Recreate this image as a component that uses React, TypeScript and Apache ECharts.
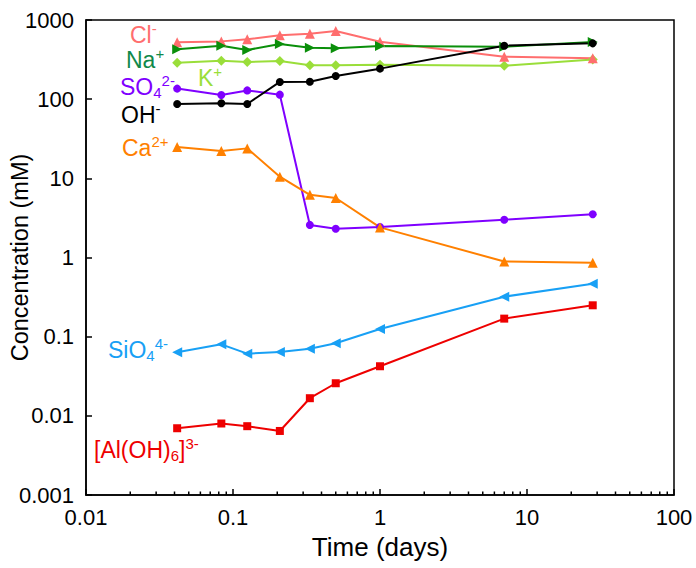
import React, { useEffect, useRef } from "react";
import * as echarts from "echarts";

const FONT = "'Liberation Sans', Arial, Helvetica, sans-serif";

const timeDays = [0.0417, 0.0833, 0.125, 0.2083, 0.3333, 0.5, 1, 7, 28];
const chloride = [522, 537, 570, 641, 671, 726, 532, 344, 328];
const sodium = [427, 474, 418, 498, 447, 439, 468, 460, 527];
const potassium = [289, 306, 295, 303, 268, 268, 273, 265, 316];
const sulfate = [136, 113, 129, 114, 2.58, 2.31, 2.43, 3.0, 3.52];
const hydroxide = [87, 89, 87, 165, 166, 196, 243, 474, 507];
const calcium = [24.9, 22.1, 23.9, 10.5, 6.2, 5.65, 2.4, 0.89, 0.86];
const silicate = [0.0635, 0.08, 0.061, 0.064, 0.0705, 0.0824, 0.125, 0.32, 0.467];
const aluminate = [0.00697, 0.008, 0.0074, 0.00644, 0.0167, 0.0258, 0.0423, 0.169, 0.249];

const xTickLabels = ["0.01", "0.1", "1", "10", "100"];
const yTickLabels = ["0.001", "0.01", "0.1", "1", "10", "100", "1000"];
const xMinorTicks = [
  0.02, 0.03, 0.04, 0.05, 0.06, 0.07, 0.08, 0.09,
  0.2, 0.3, 0.4, 0.5, 0.6, 0.7, 0.8, 0.9,
  2, 3, 4, 5, 6, 7, 8, 9,
  20, 30, 40, 50, 60, 70, 80, 90,
];

const COLORS = {
  cl: "#FF6E6E",
  na: "#0A8F0A",
  naLabel: "#10894A",
  k: "#9ADE3A",
  so4: "#7F00FF",
  oh: "#000000",
  ca: "#FF8000",
  sio4: "#18A0F5",
  al: "#EE0000",
};

const pair = (vals: number[]) => timeDays.map((t, i) => [t, vals[i]]);

const lineSeries = (
  name: string,
  vals: number[],
  color: string,
  symbol: string,
  symbolSize: number,
  symbolRotate = 0
) => ({
  name,
  type: "line",
  data: pair(vals),
  symbol,
  symbolSize,
  symbolRotate,
  showAllSymbol: true,
  lineStyle: { color, width: 2 },
  itemStyle: { color },
  emphasis: { disabled: true },
  z: 3,
});

const rich = {
  n: { fontSize: 23, lineHeight: 27, fontFamily: FONT },
  sup: { fontSize: 15, lineHeight: 15, fontFamily: FONT, verticalAlign: "top" },
  sub: { fontSize: 15, lineHeight: 10, fontFamily: FONT, verticalAlign: "bottom" },
};

const label = (x: number, y: number, color: string, text: string) => ({
  type: "text",
  x,
  y,
  silent: true,
  style: {
    text,
    fill: color,
    rich,
    align: "left",
    verticalAlign: "top",
    fontFamily: FONT,
    fontSize: 23,
  },
});

export default function App() {
  const ref = useRef<HTMLDivElement>(null);
  useEffect(() => {
    if (!ref.current) return;
    const chart = echarts.init(ref.current, null, { renderer: "svg" });
    const axisCommon = {
      type: "log",
      logBase: 10,
      axisLine: { show: true, lineStyle: { color: "#000", width: 1.5 } },
      axisTick: { show: true, inside: true, length: 6, lineStyle: { color: "#000", width: 1.5 } },
      splitLine: { show: false },
      minorTick: { show: false },
      nameLocation: "middle",
      nameMoveOverlap: false,
    };
    chart.setOption({
      animation: false,
      backgroundColor: "#fff",
      grid: {
        left: 86,
        right: 22,
        top: 20,
        bottom: 73,
        show: true,
        borderColor: "#000",
        borderWidth: 1.5,
        containLabel: false,
        outerBoundsMode: "none",
      },
      xAxis: {
        ...axisCommon,
        min: 0.01,
        max: 100,
        splitNumber: 4,
        name: "Time (days)",
        nameGap: 39,
        nameTextStyle: { color: "#000", fontSize: 26, fontFamily: FONT },
        axisLabel: {
          color: "#000",
          fontSize: 22,
          fontFamily: FONT,
          margin: 11,
          formatter: (v: number) => xTickLabels[Math.round(Math.log10(v)) + 2] ?? "",
        },
      },
      yAxis: {
        ...axisCommon,
        min: 0.001,
        max: 1000,
        splitNumber: 6,
        name: "Concentration (mM)",
        nameGap: 54,
        nameTextStyle: { color: "#000", fontSize: 23.5, fontFamily: FONT },
        axisLabel: {
          color: "#000",
          fontSize: 22,
          fontFamily: FONT,
          margin: 12,
          formatter: (v: number) => yTickLabels[Math.round(Math.log10(v)) + 3] ?? "",
        },
      },
      series: [
        {
          type: "custom",
          silent: true,
          clip: false,
          data: xMinorTicks.map((v) => [v, 0.001]),
          renderItem: (params: any, api: any) => {
            const p = api.coord([api.value(0), 0.001]);
            return {
              type: "line",
              shape: { x1: p[0], y1: p[1], x2: p[0], y2: p[1] - 3.5 },
              style: { stroke: "#000", lineWidth: 1.5 },
            };
          },
          z: 1,
        },
        lineSeries("K+", potassium, COLORS.k, "diamond", 10),
        lineSeries("Cl-", chloride, COLORS.cl, "triangle", 10),
        lineSeries("Na+", sodium, COLORS.na, "triangle", 10, -90),
        lineSeries("SO4 2-", sulfate, COLORS.so4, "circle", 8),
        lineSeries("Ca2+", calcium, COLORS.ca, "triangle", 10),
        lineSeries("SiO4 4-", silicate, COLORS.sio4, "triangle", 10, 90),
        lineSeries("Al(OH)6 3-", aluminate, COLORS.al, "rect", 8),
        lineSeries("OH-", hydroxide, COLORS.oh, "circle", 8),
      ],
      graphic: [
        label(130, 21, COLORS.cl, "{n|Cl}{sup|-}"),
        label(126, 46, COLORS.naLabel, "{n|Na}{sup|+}"),
        label(198, 64, COLORS.k, "{n|K}{sup|+}"),
        label(120, 73, COLORS.so4, "{n|SO}{sub|4}{sup|2-}"),
        label(121, 101, COLORS.oh, "{n|OH}{sup|-}"),
        label(122, 134, COLORS.ca, "{n|Ca}{sup|2+}"),
        label(108, 336, COLORS.sio4, "{n|SiO}{sub|4}{sup|4-}"),
        label(94, 436, COLORS.al, "{n|[Al(OH)}{sub|6}{n|]}{sup|3-}"),
      ],
    });
    return () => chart.dispose();
  }, []);
  return (
    <div
      ref={ref}
      style={{ position: "absolute", left: 0, top: 0, width: 696, height: 568 }}
    />
  );
}
